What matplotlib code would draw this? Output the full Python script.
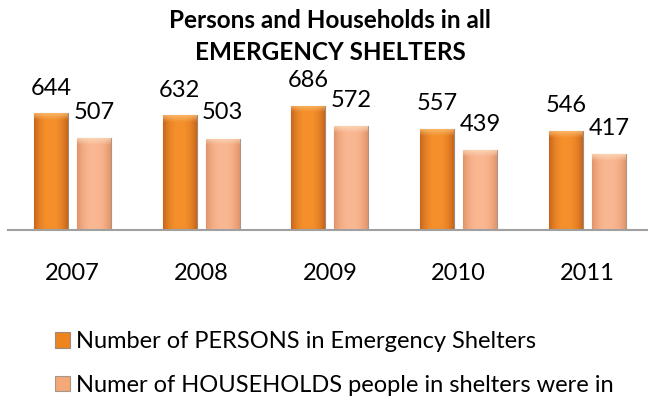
import numpy as np
import matplotlib.pyplot as plt
from matplotlib.colors import to_rgb

years = ["2007", "2008", "2009", "2010", "2011"]
persons = [644, 632, 686, 557, 546]
households = [507, 503, 572, 439, 417]
series_names = ["Number of PERSONS in Emergency Shelters",
                "Numer of HOUSEHOLDS people in shelters were in"]

plt.rcParams['font.family'] = ['Lato', 'DejaVu Sans']

fig = plt.figure(figsize=(6.48, 4.0), dpi=100)
ax = fig.add_axes([8 / 648, 0.425, 1 - 8 / 648, 0.3625])

x = np.arange(len(years))
w = 0.264
off = 0.167

bars1 = ax.bar(x - off, persons, w, color="#EE8420", edgecolor="#9C8C80",
               linewidth=0.8, label=series_names[0], zorder=2)
bars2 = ax.bar(x + off, households, w, color="#F5A878", edgecolor="#A8968A",
               linewidth=0.8, label=series_names[1], zorder=2)


# shade each bar: darker sides, lighter middle, light bevel on top
def shade(bars, edge, mid, top):
    edge, mid, top = np.array(to_rgb(edge)), np.array(to_rgb(mid)), np.array(to_rgb(top))
    for b in bars:
        bx, by = b.get_x(), b.get_y()
        bw, bh = b.get_width(), b.get_height()
        nx, ny = 40, 300
        t = np.linspace(0, 1, nx)
        f = 1 - np.abs(2 * t - 1) ** 2.5
        row = edge + (mid - edge) * f[:, None]
        img = np.repeat(row[None, :, :], ny, axis=0)
        bevel = int(ny * 38 / bh)
        for r in range(bevel):
            k = 1 - r / bevel
            img[r, :, :] = img[r, :, :] * (1 - 0.75 * k) + top * 0.75 * k
        im = ax.imshow(img, extent=(bx, bx + bw, by, by + bh), aspect='auto',
                       origin='upper', zorder=2.5, interpolation='bilinear')
        im.set_clip_path(b)


shade(bars1, "#C8651A", "#F5902C", "#FCC37A")
shade(bars2, "#E29468", "#F9B792", "#FDDDBE")

for b, v in zip(bars1, persons):
    ax.annotate(str(v), (b.get_x() + b.get_width() / 2, v), xytext=(0, 13.5),
                textcoords='offset points', ha='center', va='baseline', fontsize=17)
for b, v in zip(bars2, households):
    ax.annotate(str(v), (b.get_x() + b.get_width() / 2, v), xytext=(0, 14),
                textcoords='offset points', ha='center', va='baseline', fontsize=17)

ax.set_xlim(-0.5, 4.47)
ax.set_ylim(0, 800)
ax.set_xticks(x)
ax.set_xticklabels(years, fontsize=17)
ax.tick_params(axis='x', length=0, pad=24)
ax.set_yticks([])
for s in ['top', 'right', 'left']:
    ax.spines[s].set_visible(False)
ax.spines['bottom'].set_color("#A0A0A0")
ax.spines['bottom'].set_linewidth(1.5)
ax.set_facecolor('none')

fig.text(330 / 648, 1 - 9 / 400, "Persons and Households in all\nEMERGENCY SHELTERS",
         ha='center', va='top', fontsize=17.5, fontweight='bold', linespacing=1.5)

fig.legend(handles=[bars1, bars2], loc='upper left', bbox_to_anchor=(46 / 648, 1 - 322 / 400),
           frameon=False, fontsize=17, handlelength=0.62, handleheight=0.62,
           handletextpad=0.25, labelspacing=0.95, borderaxespad=0)

fig.savefig("out.png", dpi=100)
